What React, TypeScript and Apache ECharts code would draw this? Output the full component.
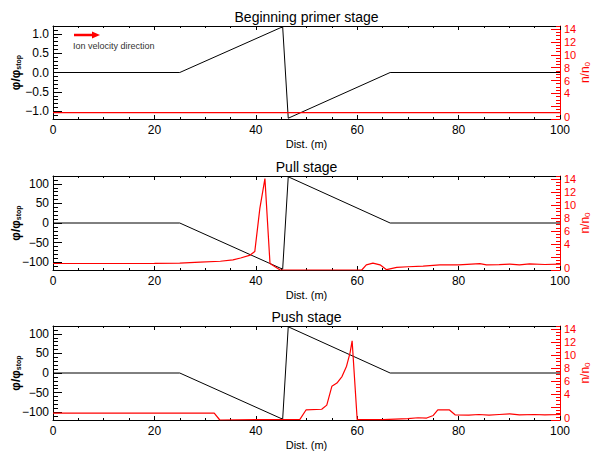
import React, { useEffect, useRef } from 'react';
import * as echarts from 'echarts';

const FONT = '"Liberation Sans", Arial, Helvetica, sans-serif';

const titles = ['Beginning primer stage', 'Pull stage', 'Push stage'];
const xAxisName = 'Dist. (m)';
const annotationText = 'Ion velocity direction';

// potential (black, left axis)
const phiX = [0, 25, 45.3, 46.4, 66.5, 100];
const phiPrimer = [0, 0, 1.18, -1.18, 0, 0];
const phiPull = [0, 0, -118, 118, 0, 0];
const phiPush = [0, 0, -118, 118, 0, 0];

// density (red, right axis)
const densPrimerX = [0, 100];
const densPrimer = [1.0, 1.0];

const densPullX = [0, 10, 20, 25, 29, 33, 35.5, 37, 38.9, 39.8, 40.8, 41.8, 42.8, 44.8, 60.9, 61.8, 63.1, 64.5, 65.8, 67.8, 70, 73, 76.3, 80, 84.2, 85.5, 88, 90.1, 92, 94, 97, 100];
const densPull = [1.0, 1.0, 1.02, 1.05, 1.2, 1.35, 1.55, 1.85, 2.3, 2.84, 9.5, 14.1, 1.0, 0, 0, 0.8, 1.05, 0.8, 0.05, 0.4, 0.5, 0.6, 0.78, 0.8, 0.98, 0.8, 0.82, 0.92, 0.8, 0.95, 0.85, 0.9];

const densPushX = [0, 31.8, 32.9, 40, 48.7, 49.9, 53, 54, 55, 56, 57, 57.9, 58.6, 59.0, 60.0, 65, 70, 72, 73.7, 75, 75.9, 78.2, 79.3, 82, 84, 86, 88, 90.1, 92, 95, 97, 100];
const densPush = [1.05, 1.05, 0, 0.05, 0.1, 1.55, 1.66, 2.3, 5.2, 5.7, 6.7, 8.3, 10.4, 12.2, 0.05, 0.05, 0.2, 0.35, 0.3, 0.7, 1.55, 1.55, 0.8, 0.75, 0.85, 0.75, 0.85, 0.95, 0.8, 0.85, 0.8, 0.85];

// tick labels
const xTickLabels = [0, 20, 40, 60, 80, 100];
const leftLabelsPrimer = [-1, -0.5, 0, 0.5, 1];
const leftLabelsStage = [-100, -50, 0, 50, 100];
const rightLabels = [0, 2, 4, 6, 8, 10, 12, 14];

const zip = (xs: number[], ys: number[]) => xs.map((x, i) => [x, ys[i]]);

const grids = [
  { top: 26, height: 93 },
  { top: 176, height: 94 },
  { top: 326, height: 94 },
];

const fmtMinus = (v: number, digits: number) => {
  const s = Math.abs(v).toFixed(digits);
  return v < 0 ? '\u2212' + s : s;
};

export default function App() {
  const ref = useRef<HTMLDivElement>(null);
  useEffect(() => {
    if (!ref.current) return;
    const chart = echarts.init(ref.current, undefined, { renderer: 'svg' });

    const phiData = [phiPrimer, phiPull, phiPush];
    const densX = [densPrimerX, densPullX, densPushX];
    const densY = [densPrimer, densPull, densPush];

    const xAxes: any[] = [];
    const yAxes: any[] = [];
    const series: any[] = [];
    const graphics: any[] = [];

    grids.forEach((g, i) => {
      const primer = i === 0;
      const lmin = primer ? -1.2 : -120;
      const lmax = primer ? 1.2 : 120;
      const leftLabels = primer ? leftLabelsPrimer : leftLabelsStage;

      xAxes.push({
        gridIndex: i, type: 'value', position: 'bottom', min: 0, max: 100, interval: 20,
        axisLine: { show: true, onZero: false, lineStyle: { color: '#000', width: 1 } },
        axisTick: { show: true, inside: true, length: 4, lineStyle: { color: '#000' } },
        minorTick: { show: true, splitNumber: 4, length: 2, lineStyle: { color: '#000' } },
        splitLine: { show: false },
        axisLabel: { customValues: xTickLabels, color: '#000', fontSize: 12, fontFamily: FONT, margin: 5, showMinLabel: true, showMaxLabel: true },
        name: xAxisName, nameLocation: 'middle', nameGap: 19, nameMoveOverlap: false,
        nameTextStyle: { color: '#000', fontSize: 11, fontFamily: FONT },
      });
      xAxes.push({
        gridIndex: i, type: 'value', position: 'top', min: 0, max: 100, interval: 20,
        axisLine: { show: true, onZero: false, lineStyle: { color: '#000', width: 1 } },
        axisTick: { show: true, inside: true, length: 4, lineStyle: { color: '#000' } },
        minorTick: { show: true, splitNumber: 4, length: 2, lineStyle: { color: '#000' } },
        splitLine: { show: false },
        axisLabel: { show: false },
      });

      yAxes.push({
        gridIndex: i, type: 'value', position: 'left', min: lmin, max: lmax, interval: primer ? 0.1 : 10,
        axisLine: { show: true, onZero: false, lineStyle: { color: '#000', width: 1 } },
        axisTick: { show: true, inside: true, length: 5, lineStyle: { color: '#000' } },
        splitLine: { show: false },
        axisLabel: {
          customValues: leftLabels, color: '#000', fontSize: 12, fontFamily: FONT, margin: 4,
          showMinLabel: true, showMaxLabel: true,
          formatter: (v: number) => fmtMinus(v, primer ? 1 : 0),
        },
        name: '{a|\u03c6/\u03c6}{b|stop}', nameLocation: 'middle', nameGap: 31, nameRotate: 90,
        nameMoveOverlap: false,
        nameTextStyle: {
          rich: {
            a: { fontSize: 12, fontWeight: 'bold', color: '#000', fontFamily: FONT },
            b: { fontSize: 7, fontWeight: 'bold', color: '#000', fontFamily: FONT, verticalAlign: 'bottom', padding: [4, 0, 0, 0] },
          },
        },
      });
      yAxes.push({
        gridIndex: i, type: 'value', position: 'left', min: lmin, max: lmax,
        axisLine: { show: false, onZero: false },
        axisTick: { show: true, inside: true, length: 9, customValues: leftLabels, lineStyle: { color: '#000' } },
        splitLine: { show: false },
        axisLabel: { show: false },
      });
      yAxes.push({
        gridIndex: i, type: 'value', position: 'right', min: 0, max: 14.5, interval: 0.5,
        axisLine: { show: true, onZero: false, lineStyle: { color: '#ff0000', width: 1 } },
        axisTick: { show: true, inside: true, length: 4, lineStyle: { color: '#ff0000' } },
        splitLine: { show: false },
        axisLabel: {
          customValues: rightLabels, color: '#ff0000', fontSize: 11, fontFamily: FONT, margin: 4,
          showMinLabel: true, showMaxLabel: true, hideOverlap: false,
          formatter: (v: number) => (v === 0 ? '{z|0}' : String(v)),
          rich: { z: { color: '#ff0000', fontSize: 11, fontFamily: FONT, padding: [0, 0, 5, 0] } },
        },
        name: '{a|n/n}{b|0}', nameLocation: 'middle', nameGap: 19, nameRotate: 90,
        nameMoveOverlap: false,
        nameTextStyle: {
          rich: {
            a: { fontSize: 12, color: '#ff0000', fontFamily: FONT },
            b: { fontSize: 8, color: '#ff0000', fontFamily: FONT, verticalAlign: 'bottom', padding: [4, 0, 0, 0] },
          },
        },
      });
      yAxes.push({
        gridIndex: i, type: 'value', position: 'right', min: 0, max: 14.5,
        axisLine: { show: false, onZero: false },
        axisTick: { show: true, inside: true, length: 9, customValues: rightLabels, lineStyle: { color: '#ff0000' } },
        splitLine: { show: false },
        axisLabel: { show: false },
      });

      series.push({
        type: 'line', xAxisIndex: 2 * i, yAxisIndex: 4 * i,
        data: zip(phiX, phiData[i]), showSymbol: false, symbol: 'none',
        lineStyle: { color: '#000', width: 1 }, z: 2,
      });
      series.push({
        type: 'line', xAxisIndex: 2 * i, yAxisIndex: 4 * i + 2,
        data: zip(densX[i], densY[i]), showSymbol: false, symbol: 'none',
        lineStyle: { color: '#ff0000', width: 1.2 }, z: 3,
      });

      graphics.push({
        type: 'text', x: 306.5, y: g.top - 9,
        style: { text: titles[i], fill: '#000', fontSize: 14, fontFamily: FONT, align: 'center', verticalAlign: 'middle' },
      });
    });

    graphics.push({
      type: 'line', shape: { x1: 74, y1: 35, x2: 93, y2: 35 },
      style: { stroke: '#ff0000', lineWidth: 2.5 },
    });
    graphics.push({
      type: 'polygon', shape: { points: [[92, 31.5], [100, 35], [92, 38.5]] },
      style: { fill: '#ff0000' },
    });
    graphics.push({
      type: 'text', x: 73, y: 46,
      style: { text: annotationText, fill: '#333', fontSize: 9, fontFamily: FONT, align: 'left', verticalAlign: 'middle' },
    });

    chart.setOption({
      animation: false,
      backgroundColor: '#fff',
      textStyle: { fontFamily: FONT },
      grid: grids.map((g) => ({ left: 53, right: 38, top: g.top, height: g.height, containLabel: false, outerBoundsMode: 'none' })),
      xAxis: xAxes,
      yAxis: yAxes,
      series,
      graphic: graphics,
    });
    return () => chart.dispose();
  }, []);
  return <div ref={ref} style={{ position: 'absolute', left: 0, top: 0, width: 598, height: 459 }} />;
}
